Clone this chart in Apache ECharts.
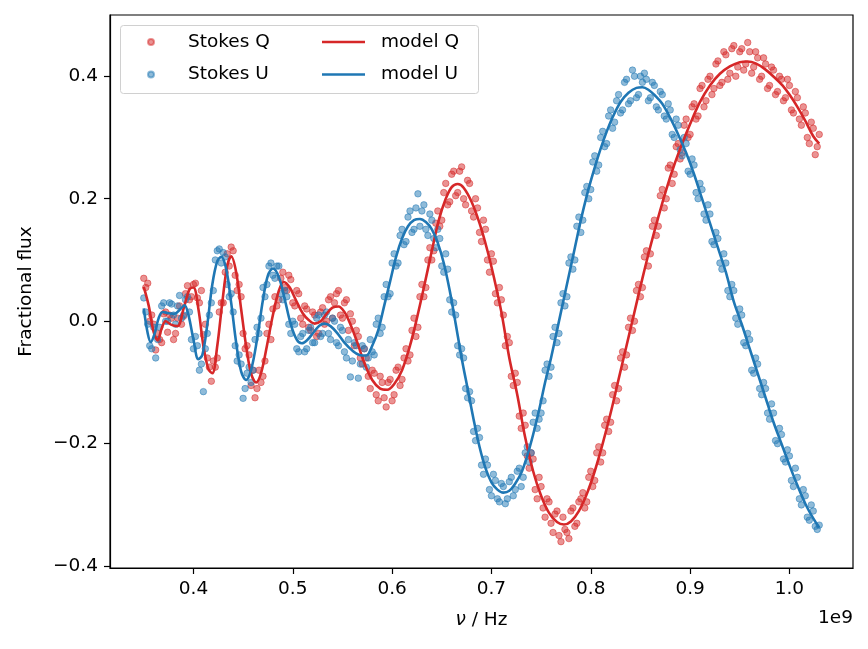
<!DOCTYPE html>
<html>
<head>
<meta charset="utf-8">
<script src="https://cdn.jsdelivr.net/npm/echarts@6/dist/echarts.min.js"></script>
<style>
  html, body { margin: 0; padding: 0; background: #fff; }
  #chart { width: 868px; height: 649px; }
</style>
</head>
<body>
<div id="chart"></div>
<script>
// frequency channels, first set (units of 1e9 Hz)
var freqsA = [
  0.350,0.354,0.358,0.362,0.366,0.370,0.374,0.378,0.382,0.386,
  0.390,0.394,0.398,0.402,0.406,0.410,0.414,0.418,0.422,0.426,
  0.430,0.434,0.438,0.442,0.446,0.450,0.454,0.458,0.462,0.466,
  0.470,0.474,0.478,0.482,0.486,0.490,0.494,0.498,0.502,0.506,
  0.510,0.514,0.518,0.522,0.526,0.530,0.534,0.538,0.542,0.546,
  0.550,0.554,0.558,0.562,0.566,0.570,0.574,0.578,0.582,0.586,
  0.590,0.594,0.598,0.602,0.606,0.610,0.614,0.618,0.622,0.626,
  0.630,0.634,0.638,0.642,0.646,0.650,0.654,0.658,0.662,0.666,
  0.670,0.674,0.678,0.682,0.686,0.690,0.694,0.698,0.702,0.706,
  0.710,0.714,0.718,0.722,0.726,0.730,0.734,0.738,0.742,0.746,
  0.750,0.754,0.758,0.762,0.766,0.770,0.774,0.778,0.782,0.786,
  0.790,0.794,0.798,0.802,0.806,0.810,0.814,0.818,0.822,0.826,
  0.830,0.834,0.838,0.842,0.846,0.850,0.854,0.858,0.862,0.866,
  0.870,0.874,0.878,0.882,0.886,0.890,0.894,0.898,0.902,0.906,
  0.910,0.914,0.918,0.922,0.926,0.930,0.934,0.938,0.942,0.946,
  0.950,0.954,0.958,0.962,0.966,0.970,0.974,0.978,0.982,0.986,
  0.990,0.994,0.998,1.002,1.006,1.010,1.014,1.018,1.022,1.026,
  1.030
];

// frequency channels, second (interleaved) set
var freqsB = [
  0.352,0.356,0.360,0.364,0.368,0.372,0.376,0.380,0.384,0.388,
  0.392,0.396,0.400,0.404,0.408,0.412,0.416,0.420,0.424,0.428,
  0.432,0.436,0.440,0.444,0.448,0.452,0.456,0.460,0.464,0.468,
  0.472,0.476,0.480,0.484,0.488,0.492,0.496,0.500,0.504,0.508,
  0.512,0.516,0.520,0.524,0.528,0.532,0.536,0.540,0.544,0.548,
  0.552,0.556,0.560,0.564,0.568,0.572,0.576,0.580,0.584,0.588,
  0.592,0.596,0.600,0.604,0.608,0.612,0.616,0.620,0.624,0.628,
  0.632,0.636,0.640,0.644,0.648,0.652,0.656,0.660,0.664,0.668,
  0.672,0.676,0.680,0.684,0.688,0.692,0.696,0.700,0.704,0.708,
  0.712,0.716,0.720,0.724,0.728,0.732,0.736,0.740,0.744,0.748,
  0.752,0.756,0.760,0.764,0.768,0.772,0.776,0.780,0.784,0.788,
  0.792,0.796,0.800,0.804,0.808,0.812,0.816,0.820,0.824,0.828,
  0.832,0.836,0.840,0.844,0.848,0.852,0.856,0.860,0.864,0.868,
  0.872,0.876,0.880,0.884,0.888,0.892,0.896,0.900,0.904,0.908,
  0.912,0.916,0.920,0.924,0.928,0.932,0.936,0.940,0.944,0.948,
  0.952,0.956,0.960,0.964,0.968,0.972,0.976,0.980,0.984,0.988,
  0.992,0.996,1.000,1.004,1.008,1.012,1.016,1.020,1.024,1.028
];

// measured Stokes Q at freqsA
var stokesQA = [
  0.070,0.062,0.010,-0.047,-0.030,0.012,-0.018,0.005,-0.020,0.025,
  0.008,0.058,0.040,0.062,0.030,-0.022,-0.060,-0.098,-0.075,0.015,
  0.030,0.110,0.121,0.075,0.060,-0.020,-0.040,-0.105,-0.125,-0.080,
  -0.090,-0.020,-0.030,0.040,0.035,0.080,0.050,0.068,0.025,0.045,
  -0.005,0.020,-0.015,0.010,-0.020,0.022,0.000,0.040,0.030,0.050,
  0.005,0.035,0.012,-0.040,-0.025,-0.070,-0.060,-0.110,-0.085,-0.130,
  -0.100,-0.140,-0.095,-0.120,-0.075,-0.095,-0.045,-0.055,0.005,-0.010,
  0.060,0.055,0.120,0.115,0.180,0.165,0.225,0.195,0.245,0.210,
  0.252,0.190,0.225,0.170,0.185,0.130,0.150,0.080,0.098,0.030,
  0.035,-0.040,-0.035,-0.105,-0.100,-0.175,-0.170,-0.240,-0.225,-0.290,
  -0.270,-0.320,-0.295,-0.345,-0.310,-0.360,-0.340,-0.355,-0.305,-0.330,
  -0.290,-0.305,-0.255,-0.270,-0.215,-0.230,-0.170,-0.180,-0.120,-0.130,
  -0.060,-0.075,-0.010,-0.015,0.050,0.040,0.105,0.090,0.155,0.140,
  0.205,0.185,0.250,0.225,0.285,0.265,0.320,0.300,0.350,0.330,
  0.380,0.350,0.395,0.370,0.420,0.385,0.440,0.395,0.445,0.400,
  0.440,0.410,0.455,0.405,0.440,0.395,0.430,0.380,0.415,0.370,
  0.400,0.360,0.395,0.345,0.375,0.330,0.350,0.300,0.325,0.272,
  0.305
];

// measured Stokes Q at freqsB
var stokesQB = [
  0.055,0.000,-0.005,-0.020,-0.035,0.015,0.010,-0.030,0.005,-0.005,
  0.045,0.035,0.060,0.038,0.050,-0.005,-0.075,-0.065,-0.060,0.030,
  0.080,0.090,0.115,0.050,0.040,-0.045,-0.055,-0.080,-0.110,-0.100,
  -0.065,-0.005,0.020,0.025,0.070,0.055,0.075,0.030,0.050,0.005,
  0.025,-0.010,0.015,-0.025,0.015,-0.005,0.035,0.005,0.045,0.010,
  0.030,-0.015,0.000,-0.015,-0.060,-0.045,-0.090,-0.080,-0.120,-0.090,
  -0.125,-0.100,-0.130,-0.080,-0.105,-0.060,-0.065,-0.015,-0.025,0.040,
  0.040,0.100,0.100,0.160,0.155,0.210,0.190,0.240,0.205,0.245,
  0.200,0.230,0.180,0.200,0.145,0.165,0.100,0.110,0.045,0.055,
  0.010,-0.025,-0.090,-0.085,-0.155,-0.150,-0.220,-0.215,-0.275,-0.255,
  -0.305,-0.290,-0.330,-0.315,-0.350,-0.320,-0.345,-0.310,-0.335,-0.295,
  -0.280,-0.295,-0.245,-0.260,-0.205,-0.215,-0.160,-0.165,-0.105,-0.110,
  -0.050,-0.055,0.005,0.000,0.060,0.055,0.115,0.110,0.165,0.155,
  0.215,0.200,0.255,0.240,0.290,0.275,0.330,0.305,0.355,0.335,
  0.385,0.360,0.400,0.380,0.425,0.390,0.435,0.405,0.450,0.415,
  0.445,0.420,0.440,0.415,0.430,0.400,0.420,0.385,0.410,0.375,
  0.395,0.365,0.385,0.340,0.365,0.320,0.340,0.290,0.315,0.285
];

// measured Stokes U at freqsA
var stokesUA = [
  0.038,-0.005,-0.045,-0.060,-0.010,0.030,0.000,0.028,-0.005,0.042,
  0.010,0.040,-0.030,-0.025,-0.080,-0.115,-0.020,0.030,0.100,0.118,
  0.112,0.060,0.045,-0.040,-0.055,-0.126,-0.085,-0.100,-0.030,-0.020,
  0.055,0.060,0.095,0.070,0.090,0.035,0.040,-0.020,-0.005,-0.050,
  -0.020,-0.045,-0.010,-0.035,0.010,-0.020,0.015,-0.030,0.000,-0.040,
  -0.015,-0.060,-0.091,-0.035,-0.093,-0.040,-0.075,-0.030,-0.055,0.005,
  -0.010,0.060,0.045,0.110,0.095,0.150,0.130,0.180,0.150,0.208,
  0.180,0.150,0.175,0.135,0.150,0.090,0.110,0.035,0.030,-0.040,
  -0.045,-0.110,-0.115,-0.180,-0.175,-0.235,-0.225,-0.275,-0.250,-0.290,
  -0.265,-0.298,-0.262,-0.285,-0.245,-0.270,-0.215,-0.230,-0.165,-0.175,
  -0.150,-0.080,-0.090,-0.025,-0.035,0.030,0.025,0.095,0.085,0.155,
  0.145,0.210,0.200,0.260,0.245,0.300,0.285,0.335,0.315,0.360,
  0.340,0.390,0.355,0.410,0.365,0.400,0.405,0.360,0.390,0.350,
  0.375,0.335,0.355,0.305,0.330,0.280,0.300,0.245,0.265,0.210,
  0.225,0.175,0.190,0.130,0.145,0.095,0.110,0.050,0.060,0.005,
  0.020,-0.035,-0.020,-0.080,-0.060,-0.110,-0.100,-0.150,-0.135,-0.195,
  -0.175,-0.225,-0.210,-0.260,-0.240,-0.290,-0.275,-0.320,-0.300,-0.335,
  -0.333
];

// measured Stokes U at freqsB
var stokesUB = [
  0.015,-0.040,-0.010,-0.030,0.025,0.000,0.030,0.010,0.025,0.005,
  0.035,0.015,-0.045,-0.040,-0.070,-0.045,0.010,0.050,0.115,0.095,
  0.105,0.040,0.015,-0.065,-0.070,-0.110,-0.075,-0.080,-0.010,0.005,
  0.040,0.090,0.075,0.090,0.045,0.050,-0.005,0.000,-0.045,-0.025,
  -0.050,-0.015,-0.035,0.005,-0.025,0.010,-0.020,0.005,-0.035,-0.010,
  -0.050,-0.030,-0.065,-0.040,-0.070,-0.045,-0.060,-0.050,-0.005,-0.020,
  0.040,0.040,0.095,0.090,0.140,0.125,0.170,0.145,0.185,0.155,
  0.190,0.140,0.165,0.120,0.135,0.080,0.085,0.015,0.010,-0.055,
  -0.060,-0.125,-0.130,-0.195,-0.190,-0.250,-0.235,-0.285,-0.260,-0.295,
  -0.270,-0.290,-0.255,-0.275,-0.240,-0.255,-0.205,-0.215,-0.150,-0.160,
  -0.130,-0.070,-0.075,-0.010,-0.020,0.045,0.040,0.105,0.100,0.170,
  0.165,0.220,0.215,0.270,0.255,0.310,0.290,0.345,0.325,0.370,
  0.345,0.395,0.360,0.400,0.370,0.390,0.395,0.365,0.385,0.345,
  0.370,0.330,0.345,0.300,0.320,0.270,0.290,0.240,0.255,0.200,
  0.215,0.165,0.175,0.125,0.135,0.085,0.095,0.040,0.050,-0.005,
  0.010,-0.040,-0.030,-0.085,-0.070,-0.120,-0.110,-0.160,-0.150,-0.200,
  -0.185,-0.230,-0.220,-0.270,-0.255,-0.300,-0.285,-0.325,-0.310,-0.340
];

// fitted model curves [freq, value]
var modelQ = [
  [0.350,0.056],[0.355,0.025],[0.360,-0.018],[0.364,-0.031],[0.368,-0.012],[0.372,0.000],
  [0.378,-0.006],[0.384,-0.008],[0.390,0.020],[0.396,0.052],[0.400,0.055],[0.405,0.020],
  [0.410,-0.040],[0.415,-0.078],[0.419,-0.085],[0.424,-0.040],[0.429,0.030],[0.434,0.090],
  [0.438,0.106],[0.443,0.080],[0.448,0.020],[0.453,-0.040],[0.458,-0.085],[0.463,-0.100],
  [0.468,-0.085],[0.474,-0.040],[0.480,0.010],[0.486,0.050],[0.491,0.064],[0.497,0.055],
  [0.503,0.035],[0.510,0.013],[0.516,0.002],[0.522,-0.004],[0.528,0.000],[0.534,0.012],
  [0.540,0.022],[0.546,0.024],[0.552,0.015],[0.558,-0.005],[0.565,-0.035],[0.572,-0.068],
  [0.580,-0.096],[0.588,-0.110],[0.595,-0.112],[0.602,-0.103],[0.610,-0.080],[0.618,-0.040],
  [0.625,0.005],[0.632,0.055],[0.640,0.115],[0.647,0.165],[0.654,0.200],[0.660,0.219],
  [0.666,0.224],[0.672,0.218],[0.680,0.195],[0.688,0.160],[0.696,0.115],[0.703,0.068],
  [0.710,0.015],[0.718,-0.060],[0.726,-0.120],[0.734,-0.190],[0.742,-0.245],[0.750,-0.285],
  [0.758,-0.313],[0.766,-0.328],[0.773,-0.332],[0.780,-0.327],[0.788,-0.310],[0.796,-0.282],
  [0.804,-0.245],[0.812,-0.200],[0.820,-0.150],[0.828,-0.095],[0.836,-0.040],[0.844,0.015],
  [0.852,0.070],[0.860,0.122],[0.868,0.170],[0.876,0.215],[0.884,0.255],[0.892,0.290],
  [0.900,0.322],[0.910,0.358],[0.920,0.385],[0.930,0.404],[0.940,0.416],[0.950,0.423],
  [0.958,0.424],[0.966,0.421],[0.975,0.412],[0.985,0.398],[0.993,0.385],[1.000,0.370],
  [1.008,0.350],[1.016,0.327],[1.024,0.302],[1.030,0.290]
];

var modelU = [
  [0.350,0.021],[0.354,-0.020],[0.357,-0.034],[0.361,-0.020],[0.365,0.005],[0.369,0.015],
  [0.375,0.013],[0.381,0.012],[0.387,0.020],[0.391,0.026],[0.395,0.010],[0.400,-0.030],
  [0.405,-0.062],[0.409,-0.055],[0.414,-0.005],[0.419,0.060],[0.424,0.098],[0.428,0.105],
  [0.433,0.085],[0.438,0.030],[0.443,-0.035],[0.448,-0.082],[0.453,-0.096],[0.458,-0.080],
  [0.464,-0.030],[0.470,0.035],[0.475,0.075],[0.480,0.086],[0.486,0.072],[0.492,0.035],
  [0.498,-0.005],[0.504,-0.030],[0.509,-0.036],[0.515,-0.030],[0.521,-0.018],[0.527,-0.007],
  [0.532,-0.004],[0.538,-0.008],[0.545,-0.020],[0.552,-0.035],[0.560,-0.048],[0.567,-0.055],
  [0.574,-0.056],[0.580,-0.040],[0.586,-0.015],[0.592,0.025],[0.598,0.065],[0.604,0.105],
  [0.610,0.135],[0.616,0.155],[0.622,0.165],[0.628,0.167],[0.634,0.162],[0.640,0.150],
  [0.646,0.128],[0.652,0.095],[0.658,0.050],[0.664,-0.004],[0.670,-0.060],[0.676,-0.110],
  [0.682,-0.160],[0.688,-0.205],[0.694,-0.240],[0.700,-0.263],[0.706,-0.275],[0.712,-0.280],
  [0.718,-0.277],[0.724,-0.265],[0.730,-0.248],[0.736,-0.220],[0.742,-0.185],[0.748,-0.145],
  [0.754,-0.100],[0.760,-0.060],[0.766,-0.015],[0.772,0.030],[0.778,0.075],[0.784,0.120],
  [0.790,0.165],[0.796,0.205],[0.802,0.240],[0.808,0.272],[0.815,0.305],[0.822,0.333],
  [0.830,0.358],[0.838,0.373],[0.846,0.381],[0.852,0.382],[0.858,0.378],[0.865,0.368],
  [0.872,0.355],[0.880,0.332],[0.888,0.305],[0.896,0.275],[0.904,0.240],[0.912,0.200],
  [0.920,0.160],[0.928,0.120],[0.936,0.080],[0.944,0.032],[0.952,-0.005],[0.960,-0.045],
  [0.968,-0.085],[0.976,-0.125],[0.984,-0.165],[0.992,-0.200],[1.000,-0.235],[1.008,-0.268],
  [1.016,-0.298],[1.024,-0.322],[1.030,-0.337]
];

var xTicks = [0.4, 0.5, 0.6, 0.7, 0.8, 0.9, 1.0];
var yTicks = [-0.4, -0.2, 0.0, 0.2, 0.4];

var RED = '#d62728';
var BLUE = '#1f77b4';
var FONT = 'DejaVu Sans';
var FS = 18.5;

function pairs(xs, ys) {
  return xs.map(function (x, i) { return [x, ys[i]]; });
}

var chart = echarts.init(document.getElementById('chart'), null, { renderer: 'canvas' });

var option = {
  animation: false,
  backgroundColor: '#fff',
  textStyle: { fontFamily: FONT },
  grid: {
    left: 110, right: 15, top: 15, bottom: 81,
    show: true, borderColor: '#000', borderWidth: 1.2, backgroundColor: 'transparent'
  },
  xAxis: {
    type: 'value',
    min: 0.316, max: 1.064,
    name: '{i|ν} / Hz',
    nameLocation: 'middle',
    nameGap: 43,
    nameTextStyle: {
      color: '#000', fontSize: FS, fontFamily: FONT,
      rich: { i: { fontStyle: 'italic', fontSize: FS, fontFamily: FONT, color: '#000' } }
    },
    axisLine: { show: true, onZero: false, lineStyle: { color: '#000', width: 1.2 } },
    axisTick: { show: true, inside: false, length: 6, customValues: xTicks, lineStyle: { color: '#000', width: 1.2 } },
    axisLabel: {
      customValues: xTicks, color: '#000', fontSize: FS, fontFamily: FONT, margin: 12,
      formatter: function (v) { return v.toFixed(1); }
    },
    splitLine: { show: false }
  },
  yAxis: {
    type: 'value',
    min: -0.403, max: 0.5,
    name: 'Fractional flux',
    nameLocation: 'middle',
    nameGap: 74,
    nameTextStyle: { color: '#000', fontSize: FS, fontFamily: FONT },
    axisLine: { show: true, onZero: false, lineStyle: { color: '#000', width: 1.2 } },
    axisTick: { show: true, inside: false, length: 6, customValues: yTicks, lineStyle: { color: '#000', width: 1.2 } },
    axisLabel: {
      customValues: yTicks, color: '#000', fontSize: FS, fontFamily: FONT, margin: 12,
      formatter: function (v) { return (v < 0 ? '\u2212' + Math.abs(v).toFixed(1) : v.toFixed(1)); }
    },
    splitLine: { show: false }
  },
  legend: [
    {
      orient: 'vertical', padding: 0,
      left: 147, top: 31,
      itemWidth: 6, itemHeight: 6, itemGap: 10.5,
      textStyle: { color: '#000', fontSize: FS, fontFamily: FONT, lineHeight: 22, padding: [0, 0, 0, 29] },
      data: [
        { name: 'Stokes Q', icon: 'circle', itemStyle: { color: RED, opacity: 0.5 } },
        { name: 'Stokes U', icon: 'circle', itemStyle: { color: BLUE, opacity: 0.5 } }
      ]
    },
    {
      orient: 'vertical', padding: 0,
      left: 322, top: 31,
      itemWidth: 43, itemHeight: 2.6, itemGap: 10.5,
      textStyle: { color: '#000', fontSize: FS, fontFamily: FONT, lineHeight: 22, padding: [0, 0, 0, 11] },
      data: [
        { name: 'model Q', icon: 'rect', itemStyle: { color: RED } },
        { name: 'model U', icon: 'rect', itemStyle: { color: BLUE } }
      ]
    }
  ],
  graphic: [
    {
      type: 'rect', z: 0, silent: true,
      shape: { x: 120.5, y: 25.5, width: 358, height: 68, r: 3 },
      style: { fill: 'rgba(255,255,255,0.8)', stroke: '#d0d0d0', lineWidth: 1 }
    },
    {
      type: 'text', right: 15, top: 609, silent: true,
      style: { text: '1e9', fill: '#000', fontSize: FS, fontFamily: FONT }
    }
  ],
  series: [
    {
      name: 'Stokes Q', type: 'scatter', symbol: 'circle', symbolSize: 6.5,
      itemStyle: { color: RED, opacity: 0.5, borderColor: RED, borderWidth: 1 },
      data: pairs(freqsA, stokesQA).concat(pairs(freqsB, stokesQB)), z: 2
    },
    {
      name: 'Stokes U', type: 'scatter', symbol: 'circle', symbolSize: 6.5,
      itemStyle: { color: BLUE, opacity: 0.5, borderColor: BLUE, borderWidth: 1 },
      data: pairs(freqsA, stokesUA).concat(pairs(freqsB, stokesUB)), z: 3
    },
    {
      name: 'model Q', type: 'line', showSymbol: false, smooth: 0.35,
      lineStyle: { color: RED, width: 2.6 }, itemStyle: { color: RED },
      data: modelQ, z: 4
    },
    {
      name: 'model U', type: 'line', showSymbol: false, smooth: 0.35,
      lineStyle: { color: BLUE, width: 2.6 }, itemStyle: { color: BLUE },
      data: modelU, z: 5
    }
  ]
};

chart.setOption(option);
</script>
</body>
</html>
